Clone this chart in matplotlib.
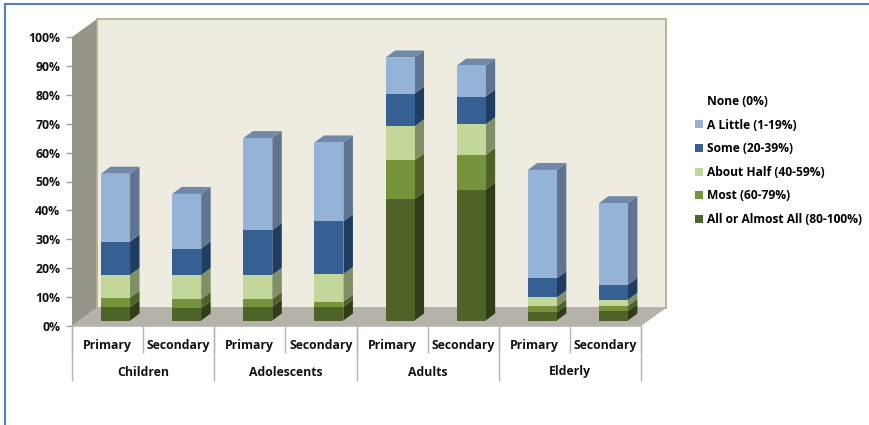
import matplotlib
matplotlib.use('Agg')
import matplotlib.pyplot as plt
from matplotlib.patches import Patch
from matplotlib.lines import Line2D
import numpy as np

groups = ['Children', 'Adolescents', 'Adults', 'Elderly']
levels = ['Primary', 'Secondary'] * 4
y_ticks = list(range(0, 101, 10))

# stacked shares, bottom to top
all_or_almost = [4.6, 4.3, 4.8, 4.8, 42.1, 45.3, 2.8, 3.2]
most = [3.3, 3.1, 2.6, 1.7, 13.3, 12.0, 2.1, 1.9]
about_half = [7.9, 8.3, 8.4, 9.6, 11.8, 10.6, 3.1, 2.1]
some = [11.5, 9.2, 15.5, 18.2, 11.3, 9.6, 6.6, 5.2]
a_little = [23.5, 18.9, 31.8, 27.3, 12.5, 10.7, 37.5, 28.2]

series = [
    ('All or Almost All (80-100%)', all_or_almost, '#4f6228', '#303d16'),
    ('Most (60-79%)', most, '#76933c', '#4f6228'),
    ('About Half (40-59%)', about_half, '#c4d79b', '#7f8f66'),
    ('Some (20-39%)', some, '#366092', '#1f3d60'),
    ('A Little (1-19%)', a_little, '#95b3d7', '#5f7490'),
]
top_color = '#7189a8'

plt.rcParams['font.family'] = 'Open Sans'
plt.rcParams['font.weight'] = 'bold'
plt.rcParams['font.size'] = 8.8

fig = plt.figure(figsize=(8.69, 4.25), dpi=100)
ax = fig.add_axes([72 / 869, 99 / 425, 569 / 869, 289 / 425])
ax.set_xlim(0, 8)
ax.set_ylim(0, 100)
ax.patch.set_visible(False)

# depth of the fake 3d box, in data units
wall_dx, wall_dy = 25 / 71.1, 18 / 2.89
bar_dx, bar_dy = 9.5 / 71.1, 7 / 2.89
bar_left, bar_width = 0.408, 0.408
bar_base = 5.5 / 2.89

# walls and floor
ax.fill([0, wall_dx, wall_dx, 0], [0, wall_dy, 100 + wall_dy, 100], color='#969589', lw=0, clip_on=False, zorder=1)
ax.fill([wall_dx, 8 + wall_dx, 8 + wall_dx, wall_dx], [wall_dy, wall_dy, 100 + wall_dy, 100 + wall_dy],
        facecolor='#eeece1', edgecolor='#b8b08c', lw=1.3, clip_on=False, zorder=1)
ax.fill([0, 8, 8 + wall_dx, wall_dx], [0, 0, wall_dy, wall_dy], color='#b5b2a9', lw=0, clip_on=False, zorder=2)

# bars
x = np.arange(8) + bar_left
bottom = np.full(8, bar_base)
for label, values, front, side in series:
    values = np.array(values)
    ax.bar(x, values, bar_width, bottom=bottom, align='edge', color=front, lw=0, zorder=4)
    for xi, b, v in zip(x, bottom, values):
        xr = xi + bar_width
        ax.fill([xr, xr + bar_dx, xr + bar_dx, xr], [b, b + bar_dy, b + v + bar_dy, b + v],
                color=side, lw=0, zorder=3)
    bottom = bottom + values
for xi, t in zip(x, bottom):
    ax.fill([xi, xi + bar_width, xi + bar_width + bar_dx, xi + bar_dx], [t, t, t + bar_dy, t + bar_dy],
            color=top_color, lw=0, zorder=3)

# axes
for name in ['top', 'right', 'left']:
    ax.spines[name].set_visible(False)
ax.spines['bottom'].set_color('#b4b4b4')
ax.spines['bottom'].set_linewidth(1.2)
ax.set_yticks(y_ticks)
ax.set_yticklabels([f'{t}%' for t in y_ticks])
ax.tick_params(axis='y', length=4, width=1, color='#a0a0a0', pad=4.5, labelcolor='#111111')
ax.set_xticks(np.arange(8) + 0.5)
ax.set_xticklabels(levels)
ax.tick_params(axis='x', length=0, pad=9.5, labelcolor='#111111')

# two level category axis
ax.vlines(np.arange(9), -26.5 / 2.89, 0, color='#b4b4b4', lw=1, clip_on=False)
ax.vlines(np.arange(0, 9, 2), -54.5 / 2.89, 0, color='#b4b4b4', lw=1, clip_on=False)
for i, g in enumerate(groups):
    ax.text(2 * i + 1, -46 / 2.89, g, ha='center', va='center', color='#111111')

# legend, top entry first
handles = [Patch(facecolor='white', edgecolor='none', label='None (0%)')]
for label, values, front, side in reversed(series):
    handles.append(Patch(facecolor=front, edgecolor='none', label=label))
fig.legend(handles=handles, loc='center left', bbox_to_anchor=(695 / 869, 1 - 160.5 / 425), frameon=False,
           prop={'size': 8.65, 'weight': 'bold'}, handlelength=0.66, handleheight=0.66, handletextpad=0.34,
           labelspacing=0.88, borderpad=0, borderaxespad=0)

# frame of the screenshot, left and top only
fig.add_artist(Line2D([5 / 869, 5 / 869], [0, 1 - 4 / 425], color='#4f81bd', lw=1.5))
fig.add_artist(Line2D([5 / 869, 1], [1 - 4 / 425, 1 - 4 / 425], color='#4f81bd', lw=1.5))

fig.savefig('out.png', dpi=100)
